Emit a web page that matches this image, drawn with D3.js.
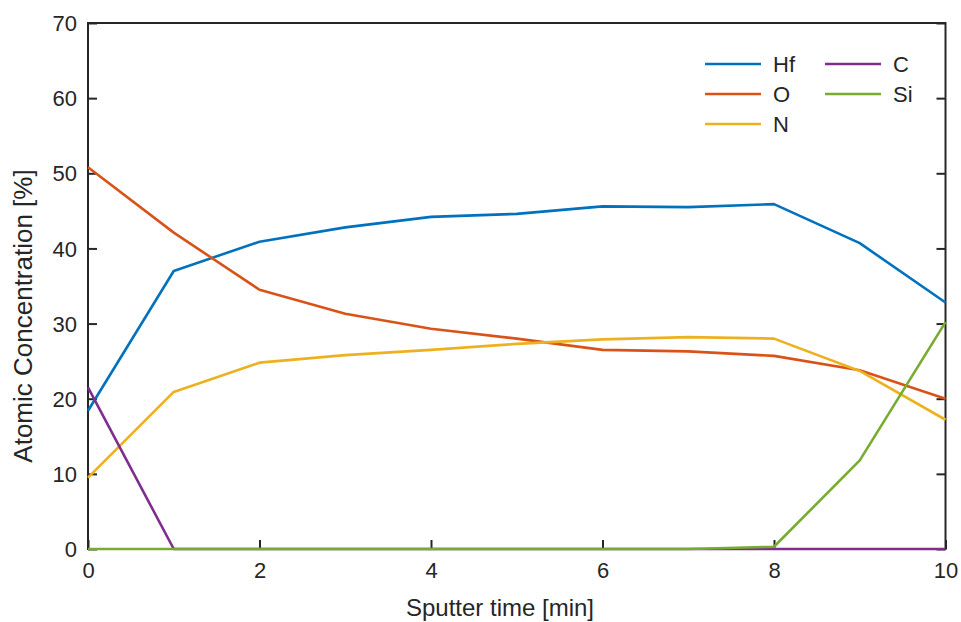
<!DOCTYPE html>
<html><head><meta charset="utf-8">
<script src="https://cdn.jsdelivr.net/npm/d3@7"></script>
<style>body{margin:0;background:#fff}svg{display:block}text{font-family:"Liberation Sans",Arial,sans-serif;fill:#262626}</style>
</head><body>
<script>
const time = [0,1,2,3,4,5,6,7,8,9,10];
const Hf = [18.4,37.0,40.9,42.8,44.2,44.6,45.6,45.5,45.9,40.7,32.8];
const O  = [50.8,42.1,34.5,31.3,29.3,28.0,26.5,26.3,25.7,23.8,20.0];
const N  = [9.5,20.9,24.8,25.8,26.5,27.3,27.9,28.2,28.0,23.7,17.2];
const C  = [21.5,0,0,0,0,0,0,0,0,0,0];
const Si = [0,0,0,0,0,0,0,0,0.3,11.8,30.2];
const seriesNames = ["Hf","O","N","C","Si"];
const seriesValues = [Hf,O,N,C,Si];
const colors = ["#0072BD","#D95319","#EDB120","#7E2F8E","#77AC30"];
const xTicks = [0,2,4,6,8,10];
const yTicks = [0,10,20,30,40,50,60,70];

const W=961,H=622;
const svg=d3.select("body").append("svg").attr("width",W).attr("height",H);
const x=d3.scaleLinear().domain([0,10]).range([88,945.5]);
const y=d3.scaleLinear().domain([0,70]).range([549,23]);
const ax="#262626";

// box
svg.append("rect").attr("x",x(0)).attr("y",y(70)).attr("width",x(10)-x(0)).attr("height",y(0)-y(70))
  .attr("fill","none").attr("stroke",ax).attr("stroke-width",2);

// ticks (inward)
const yl=svg.append("g").attr("transform",`translate(${x(0)},0)`).call(d3.axisLeft(y).tickValues(yTicks).tickSize(-9));
const yr=svg.append("g").attr("transform",`translate(${x(10)},0)`).call(d3.axisRight(y).tickValues(yTicks).tickSize(-9).tickFormat(""));
const xb=svg.append("g").attr("transform",`translate(0,${y(0)})`).call(d3.axisBottom(x).tickValues(xTicks).tickSize(-9));
[yl,yr,xb].forEach(g=>{g.select(".domain").remove();g.attr("font-size",null).attr("font-family",null);
  g.selectAll("line").attr("stroke",ax).attr("stroke-width",2);
  g.selectAll("text").attr("font-size",22).attr("fill",ax);});
yl.selectAll("text").attr("x",-11).attr("dy","0.35em");
xb.selectAll("text").attr("y",29).attr("dy","0");

// lines
const line=d3.line().x((d,i)=>x(time[i])).y(d=>y(d));
seriesValues.forEach((s,k)=>{
  svg.append("path").datum(s).attr("d",line).attr("fill","none")
    .attr("stroke",colors[k]).attr("stroke-width",2.6).attr("stroke-linejoin","round");
});

// axis titles
svg.append("text").attr("x",500).attr("y",616).attr("text-anchor","middle").attr("font-size",24).text("Sputter time [min]");
svg.append("text").attr("transform","translate(32,316) rotate(-90)").attr("text-anchor","middle").attr("font-size",26).text("Atomic Concentration [%]");

// legend
const legPos=[[705,64],[705,94],[705,124],[825,64],[825,94]];
seriesNames.forEach((n,k)=>{
  const [lx,ly]=legPos[k];
  svg.append("line").attr("x1",lx).attr("x2",lx+56).attr("y1",ly).attr("y2",ly).attr("stroke",colors[k]).attr("stroke-width",2.6);
  svg.append("text").attr("x",lx+68).attr("y",ly+8).attr("font-size",22).text(n);
});
</script>
</body></html>
